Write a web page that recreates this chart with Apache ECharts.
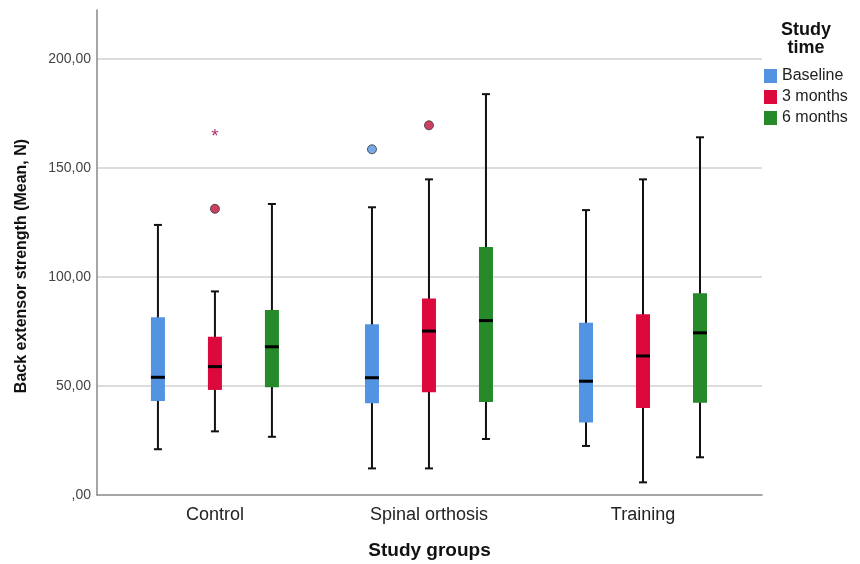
<!DOCTYPE html>
<html>
<head>
<meta charset="utf-8">
<script src="https://cdn.jsdelivr.net/npm/echarts@6/dist/echarts.min.js"></script>
<style>html,body{margin:0;padding:0;background:#fff}#c{width:860px;height:564px}</style>
</head>
<body>
<div id="c"></div>
<script>
// ---- data ----
const groups = ['Control', 'Spinal orthosis', 'Training'];
const seriesNames = ['Baseline', '3 months', '6 months'];
const yTicks = [0, 50, 100, 150, 200];
// [min, Q1, median, Q3, max]
const baseline = [[21.0, 43.1, 54.0, 81.5, 123.9], [12.2, 42.1, 53.8, 78.3, 132.0], [22.5, 33.3, 52.2, 79.0, 130.7]];
const months3  = [[29.2, 48.2, 58.9, 72.6, 93.4], [12.2, 47.1, 75.2, 90.2, 144.8], [5.8, 39.9, 63.8, 82.9, 144.8]];
const months6  = [[26.7, 49.4, 68.0, 84.9, 133.5], [25.7, 42.7, 80.0, 113.8, 183.9], [17.3, 42.3, 74.4, 92.5, 164.1]];
// outliers: [groupIndex, value]
const baselineOutliers = [[1, 158.6]];
const months3Outliers = [[0, 131.3], [1, 169.6]];
const months3Extremes = [[0, 166.2]];

// ---- styles ----
const colors = {'Baseline': '#5294e2', '3 months': '#dc0a3c', '6 months': '#268a2a'};
const pxOffset = {'Baseline': -57, '3 months': 0, '6 months': 57};
const FONT = '"Liberation Sans", Arial, sans-serif';

function renderBox(params, api) {
  const gi = api.value(0);
  const off = pxOffset[params.seriesName];
  const cx = api.coord([gi, 0])[0] + off;
  const yMin = api.coord([gi, api.value(1)])[1];
  const yQ1 = api.coord([gi, api.value(2)])[1];
  const yMed = api.coord([gi, api.value(3)])[1];
  const yQ3 = api.coord([gi, api.value(4)])[1];
  const yMax = api.coord([gi, api.value(5)])[1];
  const hw = 7, cap = 4;
  const lineStyle = {stroke: '#111', lineWidth: 2};
  return {
    type: 'group',
    children: [
      {type: 'line', shape: {x1: cx, y1: yMax, x2: cx, y2: yMin}, style: lineStyle},
      {type: 'line', shape: {x1: cx - cap, y1: yMax, x2: cx + cap, y2: yMax}, style: lineStyle},
      {type: 'line', shape: {x1: cx - cap, y1: yMin, x2: cx + cap, y2: yMin}, style: lineStyle},
      {type: 'rect', shape: {x: cx - hw, y: yQ3, width: hw * 2, height: yQ1 - yQ3}, style: {fill: api.visual('color')}},
      {type: 'line', shape: {x1: cx - hw, y1: yMed, x2: cx + hw, y2: yMed}, style: {stroke: '#000', lineWidth: 3}}
    ]
  };
}

function renderStar(params, api) {
  const gi = api.value(0);
  const p = api.coord([gi, api.value(1)]);
  return {type: 'text', style: {text: '*', x: p[0] + pxOffset['3 months'], y: p[1] + 4, align: 'center', verticalAlign: 'middle', fill: '#b0306a', fontSize: 19, fontFamily: FONT}};
}

const boxData = [baseline, months3, months6];
const series = seriesNames.map((name, si) => ({
  name: name,
  type: 'custom',
  renderItem: renderBox,
  itemStyle: {color: colors[name]},
  encode: {x: 0, y: [1, 2, 3, 4, 5]},
  data: boxData[si].map((r, gi) => [gi].concat(r)),
  z: 3
}));
series.push({
  name: 'Baseline outliers', type: 'scatter', data: baselineOutliers, symbol: 'circle', symbolSize: 9,
  symbolOffset: [pxOffset['Baseline'], 0],
  itemStyle: {color: '#5294e2', borderColor: '#333', borderWidth: 1}, z: 4
});
series.push({
  name: '3 months outliers', type: 'scatter', data: months3Outliers, symbol: 'circle', symbolSize: 9,
  symbolOffset: [pxOffset['3 months'], 0],
  itemStyle: {color: '#c0103a', borderColor: '#333', borderWidth: 1}, z: 4
});
series.push({
  name: '3 months extremes', type: 'custom', renderItem: renderStar, data: months3Extremes,
  encode: {x: 0, y: 1}, z: 4
});

const chart = echarts.init(document.getElementById('c'), null, {renderer: 'canvas'});
chart.setOption({
  animation: false,
  textStyle: {fontFamily: FONT},
  grid: {left: 97, right: 98, top: 10, bottom: 69, containLabel: false, outerBoundsMode: 'none'},
  xAxis: {
    type: 'value', min: -0.551, max: 2.556,
    name: 'Study groups', nameLocation: 'middle', nameGap: 46,
    nameTextStyle: {fontSize: 19, fontWeight: 'bold', color: '#111', fontFamily: FONT},
    axisLine: {show: true, onZero: false, lineStyle: {color: '#888', width: 1.5}},
    axisTick: {show: false},
    splitLine: {show: false},
    axisLabel: {
      customValues: [0, 1, 2], fontSize: 18, color: '#222', margin: 11, fontFamily: FONT,
      formatter: v => groups[Math.round(v)]
    }
  },
  yAxis: {
    type: 'value', min: 0, max: 222.5, interval: 50,
    axisLine: {show: true, onZero: false, lineStyle: {color: '#888', width: 1.5}},
    axisTick: {show: false},
    splitLine: {show: true, showMinLine: false, showMaxLine: false, lineStyle: {color: '#d0d0d0', width: 1.5}},
    axisLabel: {
      showMaxLabel: false, fontSize: 14, color: '#444', margin: 6, fontFamily: FONT,
      formatter: v => yTicks.indexOf(v) < 0 ? '' : (v === 0 ? ',00' : v.toFixed(2).replace('.', ','))
    }
  },
  legend: {
    data: seriesNames, orient: 'vertical', left: 764, top: 68, padding: 0,
    itemWidth: 13, itemHeight: 14, itemGap: 5, icon: 'rect',
    textStyle: {fontSize: 16, color: '#222', fontFamily: FONT}
  },
  graphic: [
    {type: 'text', x: 806, y: 21, style: {text: 'Study\ntime', align: 'center', lineHeight: 18, fontSize: 18, fontWeight: 'bold', fill: '#111', fontFamily: FONT}},
    {type: 'text', x: 22, y: 266, rotation: Math.PI / 2, style: {text: 'Back extensor strength (Mean, N)', align: 'center', verticalAlign: 'middle', fontSize: 16, fontWeight: 'bold', fill: '#111', fontFamily: FONT}}
  ],
  series: series
});
</script>
</body>
</html>
